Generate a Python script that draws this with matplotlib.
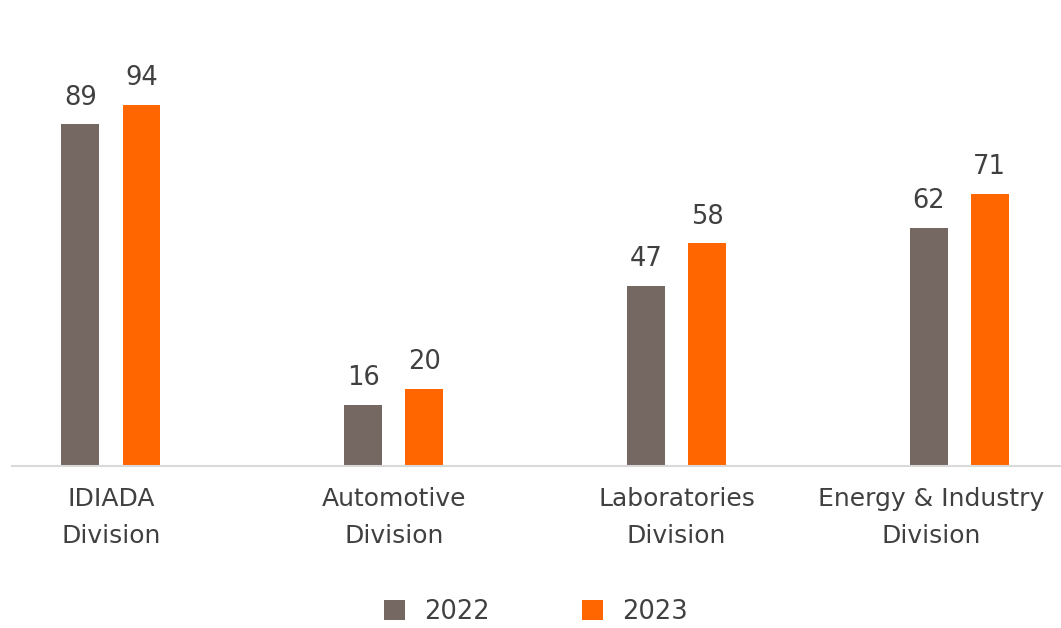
import numpy as np
import matplotlib.pyplot as plt
from matplotlib.transforms import ScaledTranslation

# data
divisions = ["IDIADA\nDivision", "Automotive\nDivision", "Laboratories\nDivision", "Energy & Industry\nDivision"]
years = ["2022", "2023"]
vals_2022 = [89, 16, 47, 62]
vals_2023 = [94, 20, 58, 71]

col_2022 = "#756762"
col_2023 = "#FF6600"
txt_col = "#404040"

fig = plt.figure(figsize=(10.61, 6.28), dpi=100)
ax = fig.add_axes([12/1061, 1 - 466/628, 1 - 12/1061, (466 - 40)/628])

x = np.arange(len(divisions))
w = 0.134
off = 0.108
b1 = ax.bar(x - off, vals_2022, w, color=col_2022, label=years[0])
b2 = ax.bar(x + off, vals_2023, w, color=col_2023, label=years[1])

for bars in (b1, b2):
    for b in bars:
        ax.annotate(str(int(b.get_height())), (b.get_x() + b.get_width()/2, b.get_height()),
                    xytext=(0, 10), textcoords="offset points", ha="center", va="bottom",
                    fontsize=18.5, color=txt_col)

ax.set_xlim(-0.35, 3.36)
ax.set_ylim(0, 111)
ax.set_xticks(x)
ax.set_xticklabels(divisions, fontsize=18, color=txt_col, linespacing=1.7)
ax.tick_params(axis="x", length=0, pad=15)
# last label is pulled left so it stays inside the picture
last = ax.get_xticklabels()[-1]
last.set_transform(last.get_transform() + ScaledTranslation(-0.28, 0, fig.dpi_scale_trans))
ax.set_yticks([])
for s in ["top", "right", "left"]:
    ax.spines[s].set_visible(False)
ax.spines["bottom"].set_color("#d9d9d9")
ax.spines["bottom"].set_linewidth(1.5)

leg = fig.legend(handles=[b1, b2], labels=years, loc="center", bbox_to_anchor=(536/1061, 1 - 612/628),
                 ncol=2, frameon=False, fontsize=18.5, handlelength=0.8, handleheight=0.8,
                 columnspacing=3.6, handletextpad=0.75)
for t in leg.get_texts():
    t.set_color(txt_col)

fig.savefig("out.png", dpi=100)
